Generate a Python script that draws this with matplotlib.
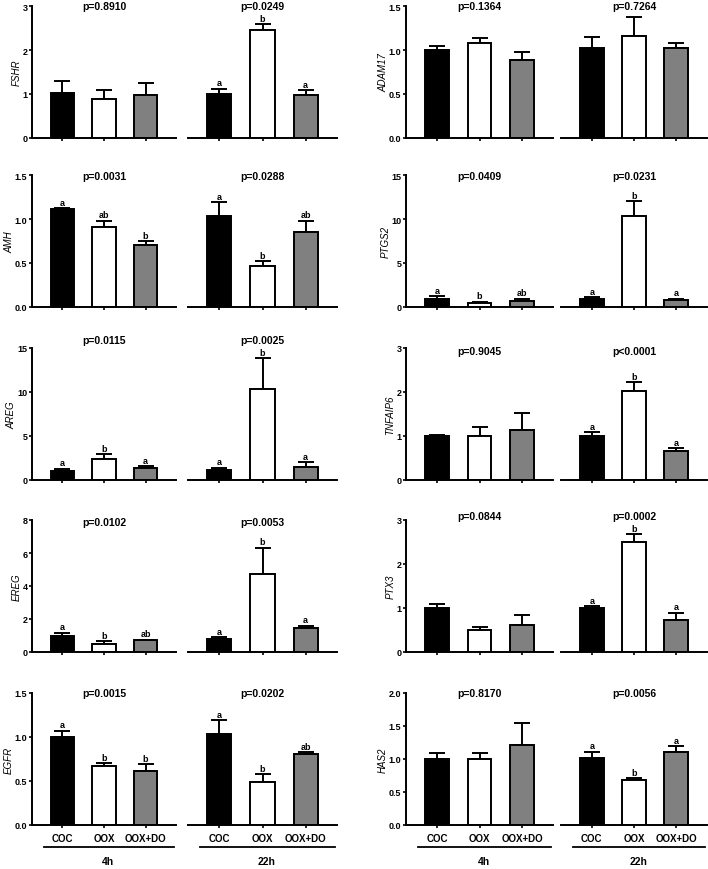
import matplotlib.pyplot as plt
from matplotlib.transforms import blended_transform_factory
import numpy as np

plt.rcParams['font.family'] = ['Liberation Sans', 'DejaVu Sans']

# ---- data ----
groups = ["COC", "OOX", "OOX+DO"]
times = ["4h", "22h"]
genes = ["FSHR", "AMH", "AREG", "EREG", "EGFR",
         "ADAM17", "PTGS2", "TNFAIP6", "PTX3", "HAS2"]

mean_4h = [[1.03, 0.89, 0.97], [1.11, 0.91, 0.71], [1.06, 2.41, 1.36],
           [1.00, 0.50, 0.72], [1.00, 0.67, 0.61],
           [1.00, 1.08, 0.89], [0.95, 0.42, 0.68], [1.00, 0.99, 1.13],
           [1.00, 0.50, 0.61], [1.00, 1.00, 1.21]]
sem_4h = [[0.26, 0.20, 0.29], [0.01, 0.07, 0.04], [0.22, 0.53, 0.22],
          [0.17, 0.16, 0.02], [0.07, 0.03, 0.08],
          [0.05, 0.06, 0.09], [0.26, 0.18, 0.27], [0.03, 0.21, 0.39],
          [0.08, 0.07, 0.24], [0.09, 0.09, 0.33]]
mean_22h = [[1.01, 2.45, 0.97], [1.03, 0.47, 0.85], [1.09, 10.29, 1.47],
            [0.78, 4.74, 1.47], [1.03, 0.49, 0.81],
            [1.02, 1.16, 1.02], [0.91, 10.30, 0.76], [1.01, 2.03, 0.66],
            [0.99, 2.49, 0.73], [1.01, 0.68, 1.10]]
sem_22h = [[0.11, 0.13, 0.11], [0.16, 0.05, 0.13], [0.30, 3.54, 0.57],
           [0.10, 1.59, 0.12], [0.16, 0.09, 0.02],
           [0.13, 0.21, 0.06], [0.23, 1.75, 0.19], [0.08, 0.19, 0.06],
           [0.05, 0.19, 0.16], [0.10, 0.03, 0.09]]
letters_4h = [["", "", ""], ["a", "ab", "b"], ["a", "b", "a"],
              ["a", "b", "ab"], ["a", "b", "b"],
              ["", "", ""], ["a", "b", "ab"], ["", "", ""],
              ["", "", ""], ["", "", ""]]
letters_22h = [["a", "b", "a"], ["a", "b", "ab"], ["a", "b", "a"],
               ["a", "b", "a"], ["a", "b", "ab"],
               ["", "", ""], ["a", "b", "a"], ["a", "b", "a"],
               ["a", "b", "a"], ["a", "b", "a"]]
p_4h = ["p=0.8910", "p=0.0031", "p=0.0115", "p=0.0102", "p=0.0015",
        "p=0.1364", "p=0.0409", "p=0.9045", "p=0.0844", "p=0.8170"]
p_22h = ["p=0.0249", "p=0.0288", "p=0.0025", "p=0.0053", "p=0.0202",
         "p=0.7264", "p=0.0231", "p<0.0001", "p=0.0002", "p=0.0056"]
ymax = [3, 1.5, 15, 8, 1.5, 1.5, 15, 3, 3, 2.0]
ystep = [1, 0.5, 5, 2, 0.5, 0.5, 5, 1, 1, 0.5]

bar_colors = ["black", "white", "#808080"]

# ---- layout in pixels ----
W, H = 708, 870
fig = plt.figure(figsize=(W / 100, H / 100), dpi=100)
col_x = [((32, 176), (188, 337)), ((406, 553), (561, 707))]
row_top = [7, 176, 349, 521, 694]
PH = 132
# vertical shift of the p-value text (px, + = down) per gene
p_shift = [0, 1, -8, 2, 0, 0, 1, 3, -4, 0]


def add_px_axes(x0, x1, ytop):
    return fig.add_axes([x0 / W, 1 - (ytop + PH) / H, (x1 - x0) / W, PH / H])


x = np.arange(3)
for g, gene in enumerate(genes):
    col, row = divmod(g, 5)
    bottom_row = (row == 4)
    for t in range(2):
        x0, x1 = col_x[col][t]
        ax = add_px_axes(x0, x1, row_top[row])
        m = mean_4h[g] if t == 0 else mean_22h[g]
        s = sem_4h[g] if t == 0 else sem_22h[g]
        lets = letters_4h[g] if t == 0 else letters_22h[g]
        ax.bar(x, m, width=0.56, color=bar_colors, edgecolor="black",
               linewidth=1.4, zorder=2)
        ax.errorbar(x, m, yerr=[np.zeros(3), s], fmt="none", ecolor="black",
                    elinewidth=1.4, capsize=5.5, capthick=1.4, zorder=1)
        for xi, mi, si, lt in zip(x, m, s, lets):
            if lt:
                ax.annotate(lt, (xi, mi + si), xytext=(0, 1),
                            textcoords="offset points", ha="center",
                            va="bottom", fontsize=6.5, fontweight="bold")
        ax.set_xlim(-0.73, 2.73)
        ax.set_ylim(0, ymax[g])
        ax.spines["top"].set_visible(False)
        ax.spines["right"].set_visible(False)
        ax.spines["bottom"].set_linewidth(1.4)
        ax.spines["left"].set_linewidth(1.4)
        ax.set_xticks(x)
        ax.tick_params(axis="both", direction="out", length=2.3, width=1.2,
                       labelsize=6.5, pad=1)
        if bottom_row:
            ax.set_xticklabels(groups, fontsize=7, fontweight="bold")
            ax.tick_params(axis="x", pad=3.5)
            tr = blended_transform_factory(ax.transData, ax.transAxes)
            ax.plot([-0.45, 2.68], [-0.167, -0.167], color="black", lw=1.3,
                    transform=tr, clip_on=False)
            ax.text(1.1, -0.27, times[t], transform=tr, ha="center",
                    va="center", fontsize=7.5, fontweight="bold")
        else:
            ax.set_xticklabels([])
        if t == 0:
            ticks = np.arange(0, ymax[g] + 1e-9, ystep[g])
            ax.set_yticks(ticks)
            if ystep[g] < 1:
                ax.set_yticklabels([f"{v:.1f}" for v in ticks])
            else:
                ax.set_yticklabels([f"{v:.0f}" for v in ticks])
            for lab in ax.get_yticklabels():
                lab.set_fontweight("bold")
            ax.set_ylabel(gene, style="italic", fontsize=7, labelpad=0.5)
        else:
            ax.spines["left"].set_visible(False)
            ax.set_yticks([])
        ax.text(0.5, 1.0 - p_shift[g] / PH, p_4h[g] if t == 0 else p_22h[g],
                transform=ax.transAxes, ha="center", va="center",
                fontsize=7.5, fontweight="bold")

fig.savefig("out.png", dpi=100)
